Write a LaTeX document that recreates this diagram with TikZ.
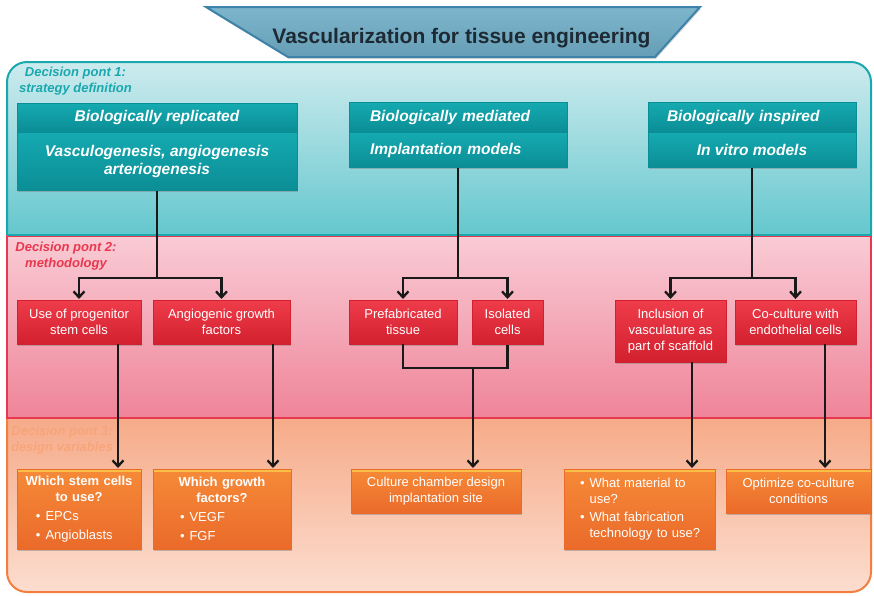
\documentclass[tikz,border=0pt]{standalone}
\usepackage{fontspec}
\setmainfont{Liberation Sans}
\usetikzlibrary{arrows,arrows.meta,positioning,shadows}

\definecolor{tealline}{HTML}{1AA8AE}
\definecolor{tealtop}{HTML}{CDEBEE}
\definecolor{tealbot}{HTML}{58C3CA}
\definecolor{boxteal}{HTML}{15AAB1}
\definecolor{boxtealdk}{HTML}{0B8D95}
\definecolor{redline}{HTML}{E8384F}
\definecolor{pinktop}{HTML}{F9CCD5}
\definecolor{pinkbot}{HTML}{EF8499}
\definecolor{boxred}{HTML}{EF3C4A}
\definecolor{boxreddk}{HTML}{D3202F}
\definecolor{orangeline}{HTML}{F27F3F}
\definecolor{orangetop}{HTML}{F5A581}
\definecolor{orangebot}{HTML}{FCDDCF}
\definecolor{boxorange}{HTML}{F68A38}
\definecolor{boxorangedk}{HTML}{EA6A2A}
\definecolor{orangehi}{HTML}{F9BE45}
\definecolor{dpthree}{HTML}{F7A579}
\definecolor{titletop}{HTML}{7DB6CC}
\definecolor{titlebot}{HTML}{669DB6}
\definecolor{titleline}{HTML}{3D83A9}
\definecolor{titletext}{HTML}{1E2A33}

\tikzset{
  boxbase/.style={inner sep=2pt, align=center, text=white,
    drop shadow={shadow xshift=1pt, shadow yshift=-1.5pt, opacity=.45}},
  tealbox/.style={boxbase, draw=boxtealdk, top color=boxteal, bottom color=boxtealdk,
    font=\fontsize{15.5}{18}\selectfont\bfseries\itshape},
  redbox/.style={boxbase, draw=boxreddk, top color=boxred, bottom color=boxreddk,
    minimum height=44pt, font=\fontsize{13}{16}\selectfont},
  orangebox/.style={boxbase, draw=boxorangedk, top color=boxorange, bottom color=boxorangedk,
    font=\fontsize{13}{16}\selectfont,
    path picture={\fill[orangehi] (path picture bounding box.north west)
      rectangle ([yshift=-2.5pt]path picture bounding box.north east);}},
  dplabel/.style={inner sep=0pt, align=center, anchor=north,
    font=\fontsize{13}{15.5}\selectfont\bfseries\itshape},
  link/.style={draw=black!90, line width=2.3pt, shorten >=1pt}
}

% bullet lines inside the orange boxes
\newcommand{\bul}[2]{\makebox[\linewidth][l]{\hspace{#1}\textbullet\hspace{5pt}#2}}
\newcommand{\bulcont}[2]{\makebox[\linewidth][l]{\hspace{#1}\phantom{\textbullet}\hspace{5pt}#2}}

\begin{document}
\begin{tikzpicture}[x=1pt, y=-1pt, >={Straight Barb[length=6pt, width=11pt]}]
  \useasboundingbox (0,0) rectangle (874,595);

  % the three bands
  \shade[top color=tealtop, bottom color=tealbot, rounded corners=20pt] (7,62) rectangle (871,255);
  \shade[top color=orangetop, bottom color=orangebot, rounded corners=20pt] (7,398) rectangle (871,592);
  \shade[top color=pinktop, bottom color=pinkbot] (7,235) rectangle (871,418);
  \draw[tealline, line width=2pt, rounded corners=20pt] (7,235) -- (7,62) -- (871,62) -- (871,235);
  \draw[redline, line width=1.5pt] (7,236) rectangle (871,418);
  \draw[orangeline, line width=2pt, rounded corners=20pt] (7,419) -- (7,592) -- (871,592) -- (871,419);
  \draw[tealline, line width=2pt] (7,235) -- (871,235);

  % title
  \draw[titleline, line width=2pt, top color=titletop, bottom color=titlebot,
    drop shadow={shadow xshift=1pt, shadow yshift=-2pt, opacity=.3}]
    (206,7) -- (700,7) -- (655,57) -- (288,57) -- cycle;
  \node[anchor=base, text=titletext, font=\fontsize{21}{24}\selectfont\bfseries] (title)
    at (461.5,43) {Vascularization for tissue engineering};

  \node[dplabel, text=tealline] (dp1) at (75.5,67) {Decision pont 1:\\strategy definition};
  \node[dplabel, text=redline] (dp2) at (66,242) {Decision pont 2:\\methodology};
  \node[dplabel, text=dpthree] (dp3) at (62,426) {Decision pont 3:\\design variables};

  % strategies
  \node[tealbox, minimum width=280pt, minimum height=29pt, anchor=north] (brep) at (157,103) {Biologically replicated};
  \node[tealbox, minimum width=280pt, minimum height=58pt, below=0pt of brep] (vasc) {Vasculogenesis, angiogenesis\\arteriogenesis};
  \node[tealbox, minimum width=218pt, minimum height=30pt, text width=176pt, align=left, anchor=north] (bmed) at (458,102) {Biologically mediated};
  \node[tealbox, minimum width=218pt, minimum height=35pt, text width=176pt, align=left, below=0pt of bmed] (impl) {Implantation models};
  \node[tealbox, minimum width=208pt, minimum height=30pt, text width=170pt, align=left, anchor=north] (binsp) at (752,102) {Biologically inspired};
  \node[tealbox, minimum width=208pt, minimum height=35pt, below=0pt of binsp] (vitro) {In vitro models};

  % methodology
  \node[redbox, minimum width=124pt, anchor=north] (prog) at (79,300) {Use of progenitor\\stem cells};
  \node[redbox, minimum width=137pt, anchor=north] (agf) at (221.5,300) {Angiogenic growth\\factors};
  \node[redbox, minimum width=108pt, anchor=north] (prefab) at (403,300) {Prefabricated\\tissue};
  \node[redbox, minimum width=71pt, anchor=north] (isol) at (507.5,300) {Isolated\\cells};
  \node[redbox, minimum width=111pt, minimum height=62pt, anchor=north] (incl) at (670.5,300) {Inclusion of\\vasculature as\\part of scaffold};
  \node[redbox, minimum width=121pt, anchor=north] (cocul) at (795.5,300) {Co-culture with\\endothelial cells};

  % design variables
  \node[orangebox, text width=120pt, minimum height=80pt, anchor=north] (whstem) at (79,469)
    {\textbf{Which stem cells}\\\textbf{to use?}\\[3pt]\bul{17pt}{EPCs}\\[3pt]\bul{17pt}{Angioblasts}};
  \node[orangebox, text width=134pt, minimum height=80pt, anchor=north] (whgf) at (222,469)
    {\textbf{Which growth}\\\textbf{factors?}\\[3pt]\bul{25pt}{VEGF}\\[3pt]\bul{25pt}{FGF}};
  \node[orangebox, minimum width=170pt, minimum height=44pt, anchor=north] (chamber) at (436,469)
    {Culture chamber design\\implantation site};
  \node[orangebox, text width=147pt, minimum height=80pt, anchor=north] (mater) at (639.5,469)
    {\bul{14pt}{What material to}\\\bulcont{14pt}{use?}\\[2pt]\bul{14pt}{What fabrication}\\\bulcont{14pt}{technology to use?}};
  \node[orangebox, minimum width=145pt, minimum height=44pt, anchor=north] (optim) at (798.5,469)
    {Optimize co-culture\\conditions};

  % connectors
  \coordinate (splitA) at (vasc.south |- 0,278);
  \coordinate (splitB) at (impl.south |- 0,278);
  \coordinate (splitC) at (vitro.south |- 0,278);
  \draw[link] (vasc.south) -- (splitA);
  \draw[link,->] (splitA) -| (prog.north);
  \draw[link,->] (splitA) -| (agf.north);
  \draw[link] (impl.south) -- (splitB);
  \draw[link,->] (splitB) -| (prefab.north);
  \draw[link,->] (splitB) -| (isol.north);
  \draw[link] (vitro.south) -- (splitC);
  \draw[link,->] (splitC) -| (incl.north);
  \draw[link,->] (splitC) -| (cocul.north);

  \coordinate (progout) at ([xshift=39pt]prog.south);
  \coordinate (agfout) at ([xshift=51.5pt]agf.south);
  \coordinate (inclout) at ([xshift=21.5pt]incl.south);
  \coordinate (coculout) at ([xshift=29.5pt]cocul.south);
  \coordinate (joinB) at (473,368);
  \draw[link,->] (progout) -- (progout |- whstem.north);
  \draw[link,->] (agfout) -- (agfout |- whgf.north);
  \draw[link] (prefab.south) |- (isol.south |- joinB) -- (isol.south);
  \draw[link,->] (joinB) -- (joinB |- chamber.north);
  \draw[link,->] (inclout) -- (inclout |- mater.north);
  \draw[link,->] (coculout) -- (coculout |- optim.north);
\end{tikzpicture}
\end{document}
